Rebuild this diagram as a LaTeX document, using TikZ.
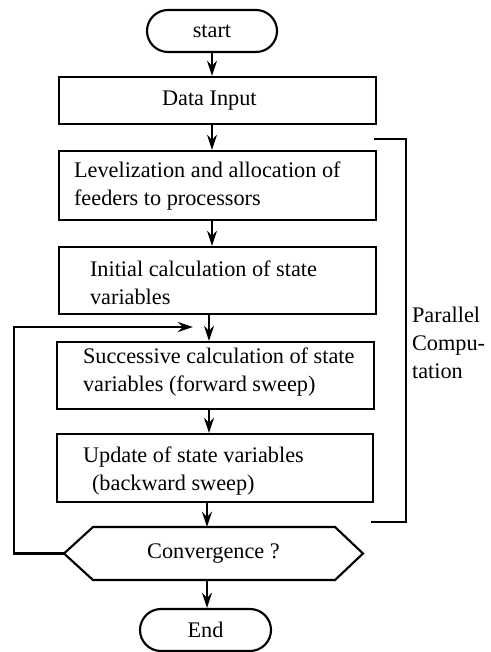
\documentclass[tikz,border=0pt]{standalone}
\usepackage{fontspec}
\setmainfont{Liberation Serif}
\usetikzlibrary{arrows.meta,shapes.misc}
\begin{document}
\begin{tikzpicture}[x=0.75pt,y=-0.75pt,line width=1.6pt,
  font=\fontsize{16.7}{21}\selectfont,
  box/.style={draw,rectangle,inner sep=0pt},
  term/.style={draw,rounded rectangle,minimum height=31.5pt,inner sep=0pt},
  lbl/.style={anchor=west,align=left,inner sep=0pt},
  arr/.style={-{Stealth[length=11.5pt,width=7.5pt,inset=4pt]}}]
\useasboundingbox (0,0) rectangle (491,652);

% terminals and process boxes
\node[term,minimum width=97.5pt] (start) at (212,31) {start};
\node[box,minimum width=237.75pt,minimum height=35.25pt] (input) at (217.5,100.5) {};
\node[lbl] (t-input) at (161,100.5) {Data Input};

\node[box,minimum width=237.75pt,minimum height=51.75pt] (level) at (217.5,185.5) {};
\node[lbl] (t-level) at (73,186) {Levelization and allocation of\\feeders to processors};

\node[box,minimum width=237.75pt,minimum height=50.25pt] (init) at (217.5,280.5) {};
\node[lbl] (t-init) at (89,283) {Initial calculation of state\\variables};

\node[box,minimum width=237.75pt,minimum height=50.25pt] (succ) at (215.5,375.5) {};
\node[lbl] (t-succ) at (82,372) {Successive calculation of state\\variables (forward sweep)};

\node[box,minimum width=237pt,minimum height=51pt] (upd) at (215,468) {};
\node[lbl] (t-upd) at (82,471) {Update of state variables\\\hspace*{6.75pt}(backward sweep)};

% decision (hexagon outline drawn from the node's anchors)
\node[minimum width=224.25pt,minimum height=39.75pt,inner sep=0pt,outer sep=0pt] (conv) at (213.5,553.5) {Convergence ?};
\draw (conv.west) -- ([xshift=21.75pt]conv.north west) -- ([xshift=-21pt]conv.north east)
  -- (conv.east) -- ([xshift=-21pt]conv.south east) -- ([xshift=21.75pt]conv.south west) -- cycle;

\node[term,minimum width=98.25pt] (end) at (205.5,630) {End};

% flow columns
\coordinate (colA) at (212,0);
\coordinate (colB) at (209,0);
\coordinate (colC) at (207,0);

\draw[arr] (start.south -| colA) -- (input.north -| colA);
\draw[arr] (input.south -| colA) -- (level.north -| colA);
\draw[arr] (level.south -| colA) -- (init.north -| colA);
\draw[arr] (init.south -| colB) -- (succ.north -| colB);
\draw[arr] (succ.south -| colB) -- (upd.north -| colB);
\draw[arr] (upd.south -| colC) -- (conv.north -| colC);
\draw[arr] (conv.south -| colC) -- (end.north -| colC);

% iteration loop back
\coordinate (loopx) at (14,0);
\coordinate (loopend) at (193,327);
\draw[arr] (conv.west) -- (conv.west -| loopx) |- (loopend);

% bracket marking the parallel part
\coordinate (brtop) at (374,139);
\coordinate (brbot) at (371,522);
\coordinate (brx) at (406,0);
\draw (brtop) -| (brx |- brbot) -- (brbot);
\node[lbl] (t-par) at (411,343) {Parallel\\Compu-\\tation};
\end{tikzpicture}
\end{document}
